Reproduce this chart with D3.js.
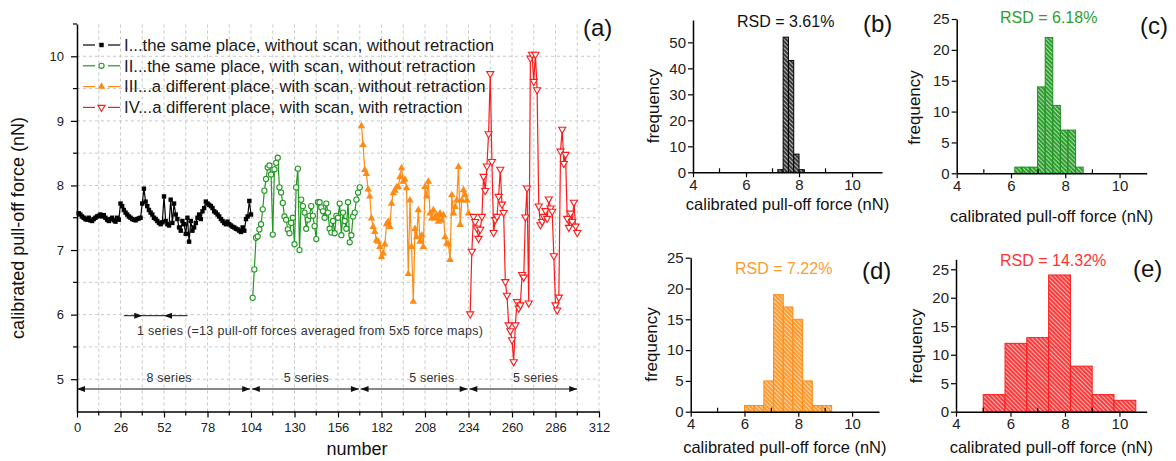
<!DOCTYPE html>
<html>
<head>
<meta charset="utf-8">
<script src="https://cdn.jsdelivr.net/npm/d3@7"></script>
<style>
  body { margin: 0; background: #fff; }
  svg { display: block; font-family: "Liberation Sans", Arial, sans-serif; }
</style>
</head>
<body>
<div id="chart"></div>
<script>
// ---- data ----
const seriesI = [
  7.57, 7.55, 7.52, 7.50, 7.48, 7.47, 7.50, 7.46, 7.45, 7.48,
  7.50, 7.52, 7.53, 7.55, 7.52, 7.54, 7.50, 7.47, 7.45, 7.48,
  7.50, 7.46, 7.44, 7.50, 7.47, 7.72, 7.68, 7.62, 7.58, 7.55,
  7.52, 7.50, 7.48, 7.47, 7.46, 7.48, 7.49, 7.50, 7.72, 7.95,
  7.75, 7.68, 7.62, 7.58, 7.55, 7.50, 7.48, 7.45, 7.42, 7.40,
  7.43, 7.83, 7.45, 7.40, 7.38, 7.78, 7.42, 7.72, 7.55, 7.48,
  7.35, 7.30, 7.45, 7.40, 7.25, 7.50, 7.13, 7.45, 7.30, 7.35,
  7.42, 7.50, 7.55, 7.48, 7.60, 7.65, 7.75, 7.72, 7.70, 7.68,
  7.65, 7.60, 7.58, 7.55, 7.52, 7.48, 7.45, 7.42, 7.40, 7.44,
  7.40, 7.38, 7.36, 7.35, 7.33, 7.32, 7.30, 7.28, 7.35, 7.30,
  7.48, 7.52, 7.76, 7.55
];
const seriesII = [
  6.26, 6.70, 7.19, 7.21, 7.32, 7.40, 7.63, 7.92, 8.10, 8.28,
  8.31, 8.17, 7.24, 8.25, 8.35, 8.43, 7.97, 7.89, 7.73, 7.52,
  7.47, 7.32, 7.26, 7.42, 7.50, 7.09, 7.97, 8.26, 7.00, 7.78,
  7.68, 7.58, 7.33, 7.47, 7.53, 7.68, 7.53, 7.37, 7.17, 7.74,
  7.74, 7.66, 7.60, 7.50, 7.72, 7.58, 7.33, 7.27, 7.45, 7.26,
  7.53, 7.50, 7.72, 7.23, 7.58, 7.45, 7.33, 7.74, 7.12, 7.23,
  7.52, 7.58, 7.78, 7.89, 7.97
];
const seriesIII = [
  8.92, 8.63, 8.24, 8.18, 7.94, 7.83, 7.49, 7.36, 7.28, 7.15,
  7.13, 7.05, 6.89, 6.95, 7.09, 7.40, 7.44, 7.36, 7.72, 7.88,
  7.92, 7.97, 7.98, 8.13, 8.27, 8.06, 8.09, 7.96, 6.63, 7.77,
  7.05, 6.20, 7.33, 7.20, 7.62, 7.13, 7.23, 7.05, 7.98, 7.83,
  8.06, 7.57, 7.49, 7.62, 7.49, 7.54, 7.44, 7.57, 7.46, 7.54,
  7.20, 7.10, 7.09, 6.85, 7.85, 7.57, 7.67, 7.77, 8.29, 7.39,
  7.77, 7.93, 7.85, 7.77, 7.57
];
const seriesIV = [
  6.01, 6.98, 7.52, 7.44, 7.34, 7.18, 7.32, 7.52, 8.14, 7.92,
  8.30, 8.80, 9.73, 8.37, 7.27, 7.47, 7.52, 7.83, 8.25, 7.71,
  7.58, 6.51, 6.30, 5.84, 5.75, 5.61, 5.27, 5.84, 6.20, 6.10,
  6.15, 6.62, 6.58, 7.51, 7.96, 6.18, 9.97, 10.03, 9.61, 10.03,
  9.48, 7.68, 7.39, 7.44, 7.52, 7.61, 7.49, 7.79, 7.65, 7.60,
  6.91, 6.15, 6.07, 6.27, 8.53, 8.87, 8.34, 8.48, 7.49, 7.35,
  7.57, 7.44, 7.74, 7.37, 7.27
];
const seriesStart = [1, 105, 170, 235];
const seriesNames = [
  "I...the same place, without scan, without retraction",
  "II...the same place, with scan, without retraction",
  "III...a different place, with scan, without retraction",
  "IV...a different place, with scan, with retraction"
];
const xTicks = [0, 26, 52, 78, 104, 130, 156, 182, 208, 234, 260, 286, 312];
const yTicks = [5, 6, 7, 8, 9, 10];
const blockEdges = [[0, 103.5], [104.5, 168.5], [169.5, 233.5], [234.5, 299]];
const blockLabels = ["8 series", "5 series", "5 series", "5 series"];
const blockLabelAt = [55, 137, 212, 274];

const edgesB = [7.2, 7.4, 7.6, 7.8, 8.0, 8.2];
const countsB = [1, 52, 43, 7, 1];
const edgesC = [6.14, 6.42, 6.70, 6.98, 7.26, 7.54, 7.82, 8.10, 8.38, 8.66];
const countsC = [1, 1, 1, 14, 22, 11, 7, 7, 1];
const edgesD = [6.0, 6.36, 6.72, 7.08, 7.44, 7.80, 8.16, 8.52, 8.88, 9.24];
const countsD = [1, 1, 5, 19, 17, 15, 5, 1, 1];
const edgesE = [5.0, 5.8, 6.6, 7.4, 8.2, 9.0, 9.8, 10.6];
const countsE = [3, 12, 13, 24, 8, 3, 2];
const rsdLabels = ["RSD = 3.61%", "RSD = 6.18%", "RSD = 7.22%", "RSD = 14.32%"];

const colors = ["#000000", "#229922", "#ff8a14", "#ff1a1a"];

// ---- drawing ----
const svg = d3.select("#chart").append("svg")
  .attr("width", 1176).attr("height", 461);
svg.append("rect").attr("width", 1176).attr("height", 461).attr("fill", "#fff");

const defs = svg.append("defs");
function hatch(id, base, stripe) {
  const p = defs.append("pattern").attr("id", id)
    .attr("patternUnits", "userSpaceOnUse")
    .attr("width", 3).attr("height", 3)
    .attr("patternTransform", "rotate(-45)");
  p.append("rect").attr("width", 3).attr("height", 3).attr("fill", base);
  p.append("line").attr("x1", 1.5).attr("x2", 1.5).attr("y1", 0).attr("y2", 3)
    .attr("stroke", stripe).attr("stroke-width", 1);
}
hatch("hb", "#3a3a3a", "#b8b8b8");
hatch("hc", "#2f9f2f", "#a9daa9");
hatch("hd", "#ff9a30", "#ffd6a8");
hatch("he", "#ff3a3a", "#ffb4b4");

const fmt = d3.format("~g");

// main plot
const x = d3.scaleLinear().domain([0, 312]).range([77, 599]);
const y = d3.scaleLinear().domain([4.5, 10.5]).range([411.5, 24]);

const grid = svg.append("g").attr("stroke", "#c8c8c8").attr("stroke-dasharray", "3,3");
grid.selectAll(".vg").data(d3.range(13, 313, 13)).join("line")
  .attr("x1", d => x(d)).attr("x2", d => x(d))
  .attr("y1", y(4.5)).attr("y2", y(10.5));
grid.selectAll(".hg").data(d3.range(5, 10.01, 0.5)).join("line")
  .attr("x1", x(0)).attr("x2", x(312))
  .attr("y1", d => y(d)).attr("y2", d => y(d));

function styleAxis(g, size) {
  g.select(".domain").attr("stroke", "#000").attr("stroke-width", 1.5);
  g.selectAll(".tick line").attr("stroke", "#000").attr("stroke-width", 1.2);
  g.selectAll(".tick text").attr("fill", "#222").attr("font-size", size)
    .attr("font-family", "Liberation Sans, Arial, sans-serif");
}

const gx = svg.append("g").attr("transform", `translate(0,${y(4.5)})`)
  .call(d3.axisBottom(x).tickValues(xTicks).tickFormat(fmt).tickSize(6).tickSizeOuter(0).tickPadding(5));
styleAxis(gx, 13);
gx.selectAll(".mt").data(d3.range(13, 312, 26)).join("line")
  .attr("x1", d => x(d)).attr("x2", d => x(d)).attr("y1", 0).attr("y2", 4)
  .attr("stroke", "#000").attr("stroke-width", 1.2);

const gy = svg.append("g").attr("transform", `translate(${x(0)},0)`)
  .call(d3.axisLeft(y).tickValues(yTicks).tickFormat(fmt).tickSize(6).tickSizeOuter(0).tickPadding(7));
styleAxis(gy, 13);
gy.selectAll(".mt").data(d3.range(5.5, 10.6, 1)).join("line")
  .attr("y1", d => y(d)).attr("y2", d => y(d)).attr("x1", 0).attr("x2", -4)
  .attr("stroke", "#000").attr("stroke-width", 1.2);

svg.append("text").attr("transform", "translate(24,228) rotate(-90)")
  .attr("text-anchor", "middle").attr("font-size", 18).attr("fill", "#111")
  .text("calibrated pull-off force (nN)");
svg.append("text").attr("x", 357).attr("y", 455).attr("text-anchor", "middle")
  .attr("font-size", 18).attr("fill", "#111").text("number");

// series
const allSeries = [seriesI, seriesII, seriesIII, seriesIV].map((vals, k) =>
  vals.map((v, i) => ({ x: seriesStart[k] + i, y: v })));
const line = d3.line().x(d => x(d.x)).y(d => y(d.y));

allSeries.forEach((pts, k) => {
  svg.append("path").datum(pts).attr("d", line)
    .attr("fill", "none").attr("stroke", colors[k]).attr("stroke-width", 1.2);
});

function marker(sel, k) {
  if (k === 0) {
    sel.append("rect").attr("x", -2.2).attr("y", -2.2).attr("width", 4.4).attr("height", 4.4)
      .attr("fill", colors[0]);
  } else if (k === 1) {
    sel.append("circle").attr("r", 2.6).attr("fill", "#fff")
      .attr("stroke", colors[1]).attr("stroke-width", 1.1);
  } else if (k === 2) {
    sel.append("path").attr("d", d3.symbol(d3.symbolTriangle, 24)())
      .attr("fill", colors[2]);
  } else {
    sel.append("path").attr("d", d3.symbol(d3.symbolTriangle, 22)())
      .attr("transform", "rotate(180)")
      .attr("fill", "#fff").attr("stroke", colors[3]).attr("stroke-width", 1.1);
  }
}

allSeries.forEach((pts, k) => {
  svg.append("g").selectAll("g").data(pts).join("g")
    .attr("transform", d => `translate(${x(d.x)},${y(d.y)})`)
    .each(function () { marker(d3.select(this), k); });
});

// legend
const lg = svg.append("g");
seriesNames.forEach((name, k) => {
  const ly = 45 + k * 20.8;
  lg.append("line").attr("x1", 83).attr("x2", 95).attr("y1", ly).attr("y2", ly)
    .attr("stroke", colors[k]).attr("stroke-width", 1.2);
  lg.append("line").attr("x1", 108).attr("x2", 120).attr("y1", ly).attr("y2", ly)
    .attr("stroke", colors[k]).attr("stroke-width", 1.2);
  marker(lg.append("g").attr("transform", `translate(101.5,${ly})`), k);
  lg.append("text").attr("x", 124).attr("y", ly + 5.8).attr("font-size", 16.7)
    .attr("fill", "#1a1a1a").text(name);
});

svg.append("text").attr("x", 583).attr("y", 36).attr("font-size", 24).attr("fill", "#111").text("(a)");

// annotations
function arrowHead(xTip, yy, dir) {
  const L = 8, h = 3;
  svg.append("path")
    .attr("d", `M${xTip},${yy} L${xTip - dir * L},${yy - h} L${xTip - dir * L},${yy + h} Z`)
    .attr("fill", "#111");
}
const ann = 315.7;
svg.append("line").attr("x1", x(28)).attr("x2", x(66)).attr("y1", ann).attr("y2", ann)
  .attr("stroke", "#111").attr("stroke-width", 1);
arrowHead(x(39), ann, 1);
arrowHead(x(52), ann, -1);
svg.append("text").attr("x", 137).attr("y", 335).attr("font-size", 12.5)
  .attr("fill", "#333").attr("textLength", 346).attr("lengthAdjust", "spacing")
  .text("1 series (=13 pull-off forces averaged from 5x5 force maps)");

const by = 389;
blockEdges.forEach(([a, b], i) => {
  svg.append("line").attr("x1", x(a)).attr("x2", x(b)).attr("y1", by).attr("y2", by)
    .attr("stroke", "#111").attr("stroke-width", 1);
  arrowHead(x(a), by, -1);
  arrowHead(x(b), by, 1);
  svg.append("text").attr("x", x(blockLabelAt[i])).attr("y", 382)
    .attr("text-anchor", "middle").attr("font-size", 12.5).attr("fill", "#333")
    .attr("textLength", 45).attr("lengthAdjust", "spacing").text(blockLabels[i]);
});

// histograms
function hist(o) {
  const hx = d3.scaleLinear().domain([4, o.xMax]).range(o.xr);
  const hy = d3.scaleLinear().domain([0, o.yMax]).range(o.yr);
  const bars = o.counts.map((c, i) => ({ x0: o.edges[i], x1: o.edges[i + 1], c }));
  svg.append("g").selectAll("rect").data(bars).join("rect")
    .attr("x", d => hx(d.x0)).attr("width", d => hx(d.x1) - hx(d.x0))
    .attr("y", d => hy(d.c)).attr("height", d => hy(0) - hy(d.c))
    .attr("fill", `url(#${o.pat})`).attr("stroke", o.stroke).attr("stroke-width", 1);

  const ax = svg.append("g").attr("transform", `translate(0,${hy(0)})`)
    .call(d3.axisBottom(hx).tickValues([4, 6, 8, 10]).tickFormat(fmt).tickSize(5).tickSizeOuter(0).tickPadding(2));
  styleAxis(ax, 15);
  ax.selectAll(".mt").data([5, 7, 9]).join("line")
    .attr("x1", d => hx(d)).attr("x2", d => hx(d)).attr("y1", 0).attr("y2", -4)
    .attr("stroke", "#000").attr("stroke-width", 1.2);
  const ay = svg.append("g").attr("transform", `translate(${hx(4)},0)`)
    .call(d3.axisLeft(hy).tickValues(o.yTicks).tickFormat(fmt).tickSize(5).tickSizeOuter(0).tickPadding(2));
  styleAxis(ay, 15);

  svg.append("text").attr("transform", `translate(${o.fx},${o.fy}) rotate(-90)`)
    .attr("text-anchor", "middle").attr("font-size", 17).attr("fill", "#111").text("frequency");
  svg.append("text").attr("x", (o.xr[0] + o.xr[1]) / 2).attr("y", o.ly)
    .attr("text-anchor", "middle").attr("font-size", 16.5).attr("fill", "#111")
    .text("calibrated pull-off force (nN)");
  svg.append("text").attr("x", o.rx).attr("y", o.ry).attr("font-size", 16)
    .attr("fill", o.rc).text(o.rsd);
  svg.append("text").attr("x", o.px).attr("y", o.py).attr("font-size", 24)
    .attr("fill", "#111").text(o.panel);
}

hist({ edges: edgesB, counts: countsB, xMax: 11.13, xr: [693, 882], yMax: 58.6, yr: [172.3, 20],
  yTicks: [0, 10, 20, 30, 40, 50], pat: "hb", stroke: "#000",
  fx: 658.5, fy: 106, ly: 210, rsd: rsdLabels[0], rx: 737, ry: 27, rc: "#111",
  panel: "(b)", px: 863, py: 32 });
hist({ edges: edgesC, counts: countsC, xMax: 11, xr: [956.7, 1146.7], yMax: 25, yr: [173.3, 19],
  yTicks: [0, 5, 10, 15, 20, 25], pat: "hc", stroke: "#1f8f1f",
  fx: 919.5, fy: 107.5, ly: 222, rsd: rsdLabels[1], rx: 1000, ry: 23, rc: "#2e9e2e",
  panel: "(c)", px: 1140, py: 33.5 });
hist({ edges: edgesD, counts: countsD, xMax: 11, xr: [690.7, 879], yMax: 25, yr: [411.7, 257.7],
  yTicks: [0, 5, 10, 15, 20, 25], pat: "hd", stroke: "#ff8a14",
  fx: 656.5, fy: 344.5, ly: 453, rsd: rsdLabels[2], rx: 735, ry: 273.5, rc: "#ff9a33",
  panel: "(d)", px: 862, py: 279 });
hist({ edges: edgesE, counts: countsE, xMax: 11, xr: [956, 1146.7], yMax: 26.75, yr: [411.7, 259.3],
  yTicks: [0, 5, 10, 15, 20, 25], pat: "he", stroke: "#ff1a1a",
  fx: 921.5, fy: 346, ly: 453, rsd: rsdLabels[3], rx: 1000, ry: 266, rc: "#ff3333",
  panel: "(e)", px: 1133, py: 276.5 });
</script>
</body>
</html>
